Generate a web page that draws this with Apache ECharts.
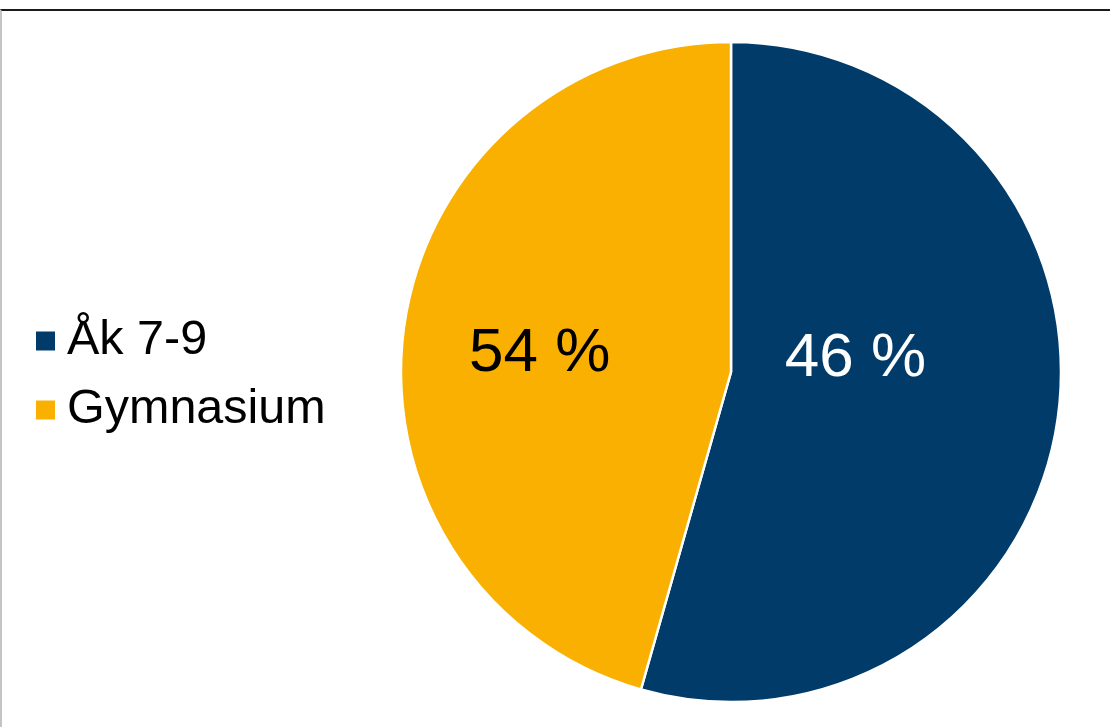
<!DOCTYPE html>
<html><head><meta charset="utf-8">
<script src="https://cdn.jsdelivr.net/npm/echarts@6/dist/echarts.min.js"></script>
<style>
html,body{margin:0;padding:0;background:#fff;}
#c{position:absolute;left:0;top:0;width:1112px;height:727px;}
#frame{position:absolute;left:0;top:9px;width:1110px;height:718px;border-top:2.5px solid #1a1a1a;border-left:2px solid #c4c4c4;pointer-events:none;box-sizing:border-box;}
</style></head>
<body>
<div id="c"></div><div id="frame"></div>
<script>
const categories = ['Åk 7-9', 'Gymnasium'];
const values = [54.4, 45.6];
const labelTexts = ['46 %', '54 %'];
const colors = ['#003B69', '#F9B000'];
const labelColors = ['#ffffff', '#000000'];

const chart = echarts.init(document.getElementById('c'), null, {renderer: 'canvas'});
const labelShift = [[-42, -36], [-25, 5]];
chart.setOption({
  animation: false,
  legend: {
    orient: 'vertical',
    left: 29,
    top: 308,
    itemWidth: 21,
    itemHeight: 21,
    itemGap: 13,
    icon: 'rect',
    data: categories,
    textStyle: {fontFamily: 'Liberation Sans, Arial, sans-serif', fontSize: 48.5, color: '#000', lineHeight: 56, padding: [0, 0, 0, 6]}
  },
  series: [{
    type: 'pie',
    center: [731, 372],
    radius: 330,
    startAngle: 90,
    clockwise: true,
    itemStyle: {borderColor: '#fff', borderWidth: 2.5},
    label: {
      show: true,
      position: 'inside',
      fontFamily: 'Liberation Sans, Arial, sans-serif',
      fontSize: 62,
      formatter: p => labelTexts[p.dataIndex]
    },
    labelLayout: p => ({dx: labelShift[p.dataIndex][0], dy: labelShift[p.dataIndex][1]}),
    emphasis: {disabled: true},
    data: categories.map((n, i) => ({
      name: n, value: values[i],
      itemStyle: {color: colors[i]},
      label: {color: labelColors[i]}
    }))
  }]
});
</script>
</body></html>
